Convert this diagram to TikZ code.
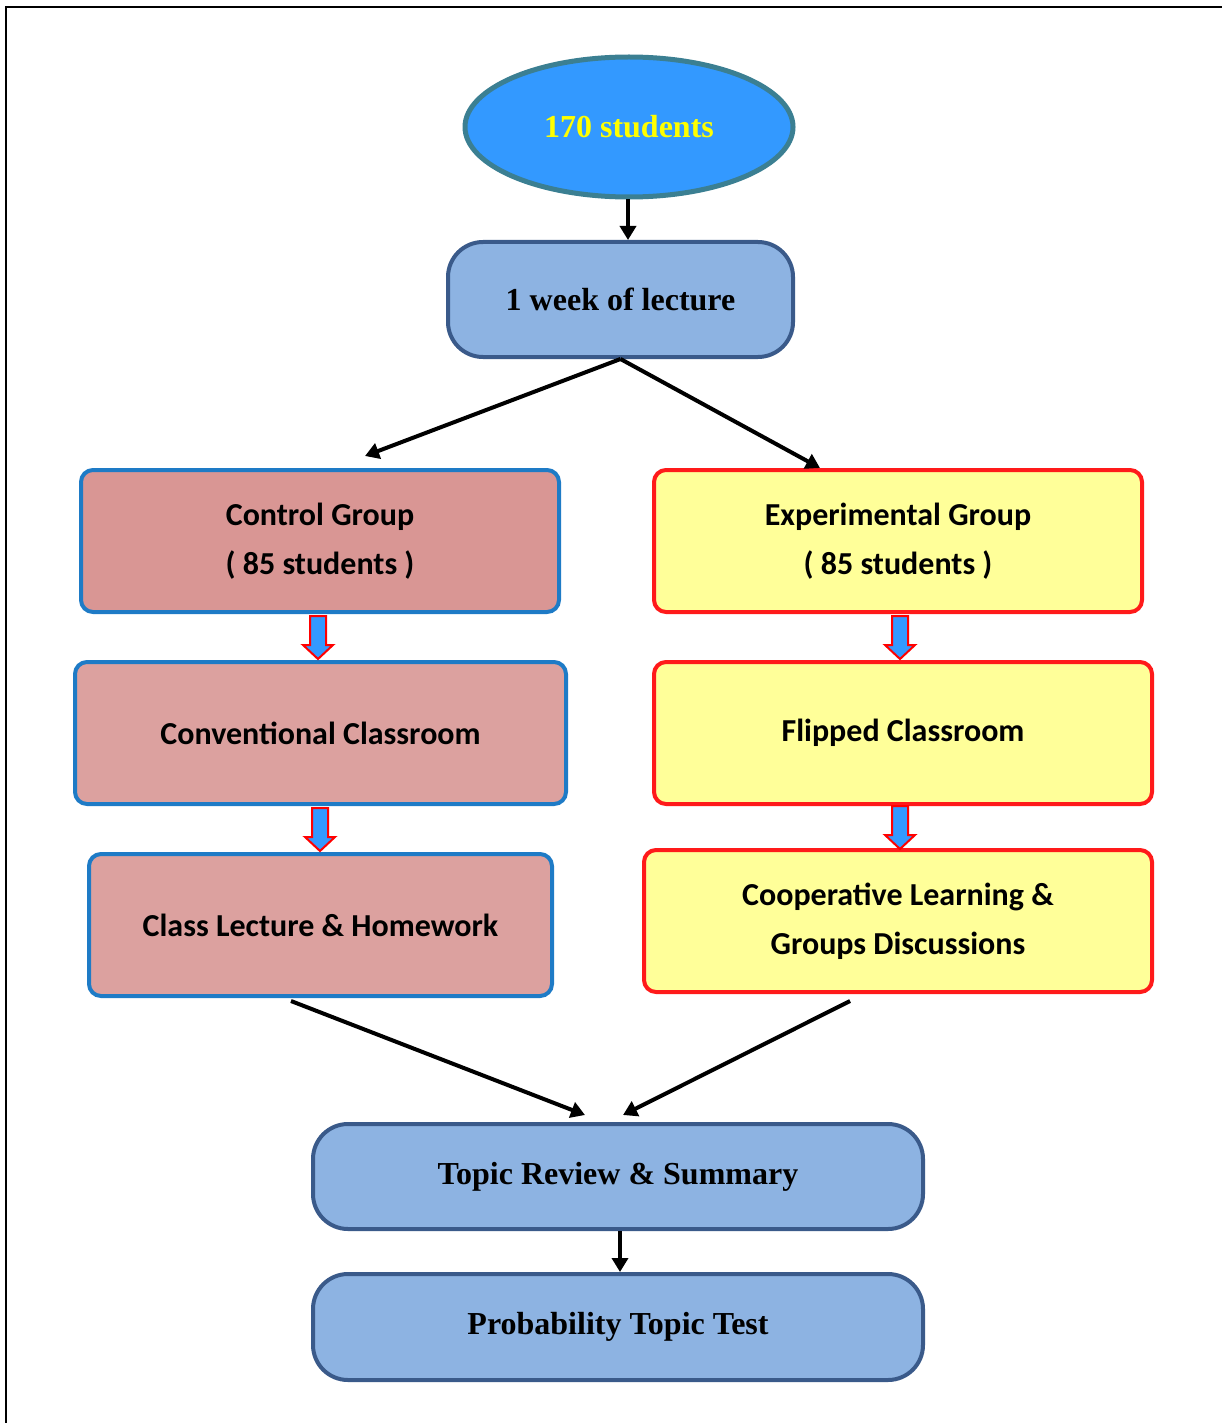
\documentclass[tikz,border=0pt]{standalone}
\usepackage{fontspec}
\setmainfont{Liberation Serif}
\newfontfamily\calfont{Carlito}
\usetikzlibrary{shapes.geometric,arrows.meta,calc}
\definecolor{ellfill}{HTML}{3399FF}
\definecolor{elldraw}{HTML}{3B7F92}
\definecolor{bluefill}{HTML}{8DB3E2}
\definecolor{bluedraw}{HTML}{3A5A8A}
\definecolor{pinkA}{HTML}{D99694}
\definecolor{pinkB}{HTML}{DCA19F}
\definecolor{cgdraw}{HTML}{1E7BC6}
\definecolor{yelfill}{HTML}{FFFF99}
\definecolor{reddraw}{HTML}{FF1A1A}
\definecolor{txtyellow}{HTML}{FFFF00}
\tikzset{
  bluebox/.style={draw=bluedraw, fill=bluefill, line width=2pt, rounded corners=17.5pt,
    inner sep=0pt, font=\bfseries\fontsize{16}{19}\selectfont},
  pinkbox/.style={draw=cgdraw, line width=2pt, rounded corners=6pt, inner sep=0pt,
    minimum height=71pt, align=center, font=\calfont\bfseries\fontsize{16}{24.5}\selectfont},
  yelbox/.style={draw=reddraw, fill=yelfill, line width=2pt, rounded corners=6pt, inner sep=0pt,
    minimum height=71pt, align=center, font=\calfont\bfseries\fontsize{16}{24.5}\selectfont},
  conn/.style={line width=2pt, -{Triangle[length=7pt,width=8pt]}},
  barrow/.style={draw=red, fill=ellfill, line width=1pt, line join=miter}
}
\newcommand\blockarr[1]{%
  \draw[barrow] ($(#1)+(-8,-21)$) -- ($(#1)+(8,-21)$) -- ($(#1)+(8,8)$) -- ($(#1)+(15,8)$)
    -- ($(#1)+(0,22)$) -- ($(#1)+(-15,8)$) -- ($(#1)+(-8,8)$) -- cycle;}
\begin{document}
\begin{tikzpicture}[x=0.5pt,y=-0.5pt]
\useasboundingbox (0,0) rectangle (1222,1423);
\draw[line width=1pt] (6,1423) -- (6,7) -- (1222,7);

\node[ellipse, draw=elldraw, fill=ellfill, line width=2.5pt, minimum width=164pt, minimum height=70pt,
  inner sep=0pt, text=txtyellow, font=\bfseries\fontsize{16}{19}\selectfont] (all) at (629,127) {170 students};
\node[bluebox, minimum width=172.5pt, minimum height=57.5pt] (lec) at (620.5,299.5) {1 week of lecture};

\node[pinkbox, fill=pinkA, minimum width=239pt] (cg) at (320,541) {Control Group\\( 85 students )};
\node[yelbox, minimum width=244pt] (eg) at (898,541) {Experimental Group\\( 85 students )};
\node[pinkbox, fill=pinkB, minimum width=245.5pt] (cc) at (320.5,733) {Conventional Classroom};
\node[yelbox, minimum width=249pt] (fc) at (903,733) {Flipped Classroom};
\node[pinkbox, fill=pinkB, minimum width=231.5pt] (cl) at (320.5,925) {Class Lecture \& Homework};
\node[yelbox, minimum width=254pt] (co) at (898,921) {Cooperative Learning \&\\Groups Discussions};

\node[bluebox, minimum width=305pt, minimum height=52.5pt] (tr) at (618,1176.5) {Topic Review \& Summary};
\node[bluebox, minimum width=305pt, minimum height=53pt] (pt) at (618,1327) {Probability Topic Test};

\coordinate (cgin) at (365,456);
\coordinate (egin) at (820,468);
\coordinate (clout) at (291,1001);
\coordinate (coout) at (850,1001);
\coordinate (trinL) at (585,1115);
\coordinate (trinR) at (623,1115);

\draw[conn] (all.south -| 628,0) -- (lec.north -| 628,0);
\draw[conn] (lec.south) -- (cgin);
\draw[conn] (lec.south) -- (egin);
\draw[conn] (clout) -- (trinL);
\draw[conn] (coout) -- (trinR);
\draw[conn] (tr.south -| 620,0) -- (pt.north -| 620,0);

\coordinate (m1) at ($(cg.south -| 318,0)!0.5!(cc.north -| 318,0)$);
\coordinate (m2) at ($(cc.south -| 320,0)!0.5!(cl.north -| 320,0)$);
\coordinate (m3) at ($(eg.south -| 900,0)!0.5!(fc.north -| 900,0)$);
\coordinate (m4) at ($(fc.south -| 900,0)!0.5!(co.north -| 900,0)$);
\blockarr{m1}
\blockarr{m2}
\blockarr{m3}
\blockarr{m4}
\end{tikzpicture}
\end{document}
